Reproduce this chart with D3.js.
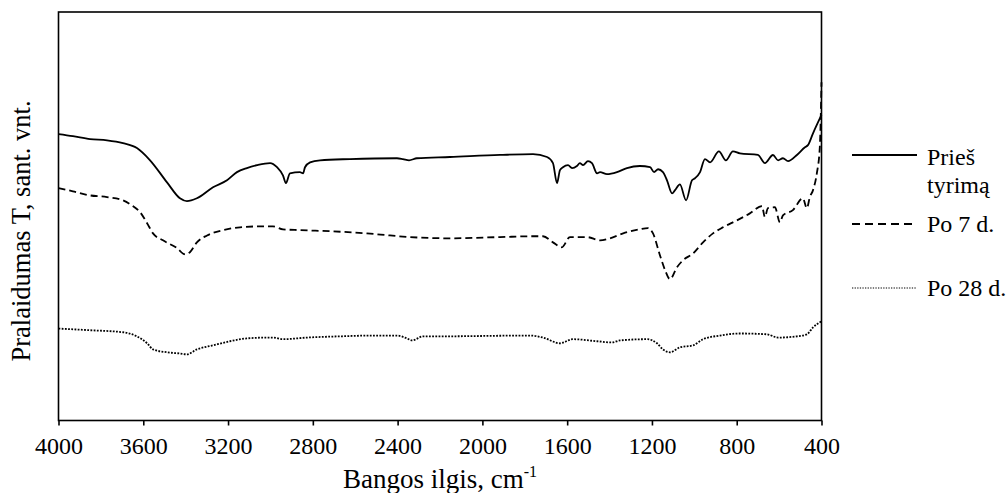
<!DOCTYPE html>
<html><head><meta charset="utf-8">
<script src="https://cdn.jsdelivr.net/npm/d3@7"></script>
<style>
html,body{margin:0;padding:0;background:#fff;}
</style></head>
<body><svg id="c" width="1007" height="493" font-family="Liberation Serif"></svg>
<script>
// ---- data (arbitrary transmittance units, x in cm^-1) ----
const xTicks = [4000,3600,3200,2800,2400,2000,1600,1200,800,400];
const seriesNames = ["Prieš tyrimą","Po 7 d.","Po 28 d."];

const wnBefore = [4000,3932,3851,3771,3696,3630,3568,3488,3427,3394,3347,3271,3205,3158,3111,3063,3002,2969,2941,2927,2908,2861,2846,2837,2813,2766,2625,2403,2375,2346,2309,2153,1917,1761,1695,1667,1648,1634,1620,1596,1577,1554,1540,1525,1502,1483,1459,1445,1412,1365,1318,1257,1209,1190,1171,1148,1129,1105,1091,1068,1039,1011,997,973,950,926,884,851,818,785,700,667,629,605,582,558,516,478,464,440,400];
const tBefore = [70.1,69.6,68.9,68.6,67.9,66.7,63.7,58.3,54.4,53.7,54.4,57.1,58.8,60.8,61.8,62.5,63.0,62.0,60.0,58.1,60.5,60.8,60.5,62.0,63.2,63.7,64.0,64.2,64.0,63.7,64.2,64.5,65.0,65.2,64.5,63.0,58.1,61.3,62.0,62.5,61.8,62.3,63.0,62.5,63.5,63.0,60.5,60.8,60.3,60.8,61.8,62.3,62.0,60.8,61.5,60.8,58.8,55.6,56.4,57.8,53.9,58.8,59.3,60.8,64.0,63.2,65.9,63.7,65.9,65.4,65.0,63.0,65.0,63.7,64.2,63.5,65.0,66.9,67.4,70.3,74.8];

const wn7 = [4000,3932,3851,3771,3696,3649,3615,3582,3554,3507,3441,3403,3380,3347,3299,3224,3144,3063,2988,2941,2861,2705,2545,2436,2342,2153,1917,1761,1714,1667,1625,1587,1507,1445,1398,1336,1257,1219,1195,1162,1138,1115,1082,1054,1006,959,912,865,799,738,681,667,653,620,596,582,535,488,469,455,440,422,408,400];
const t7 = [56.9,56.1,55.1,54.7,53.9,52.5,51.0,48.3,45.8,44.1,42.2,40.7,41.2,43.6,45.3,46.6,47.3,47.5,47.5,46.8,46.6,46.3,45.8,45.3,44.9,44.6,44.9,45.1,45.1,43.6,42.4,44.9,44.9,44.1,44.6,45.8,46.8,47.1,45.8,40.4,36.8,34.6,37.5,39.2,40.9,43.6,45.8,47.3,49.0,50.7,52.5,49.8,52.0,52.2,48.5,50.2,51.5,54.4,52.0,54.7,56.4,60.5,66.9,82.8];

const wn28 = [4000,3851,3696,3630,3582,3554,3488,3427,3394,3347,3271,3191,3111,3016,2988,2941,2828,2672,2516,2403,2356,2332,2280,2200,1776,1714,1634,1573,1459,1389,1351,1224,1176,1148,1115,1068,1006,959,879,785,658,605,516,469,440,400];
const t28 = [22.5,22.1,21.6,20.6,18.9,17.4,16.7,16.4,16.2,17.4,18.4,19.4,20.1,20.3,20.3,19.9,20.3,20.6,20.8,20.8,20.1,19.6,20.6,20.6,20.8,20.3,18.9,19.9,19.4,19.1,19.6,19.9,18.9,17.4,16.7,17.9,18.4,19.9,20.8,21.3,21.1,20.3,20.6,21.1,22.8,24.3];

// ---- layout ----
const FONT = "Liberation Serif";
const L = 58.5, R = 821.5, T = 12, B = 420.5;
const svg = d3.select("#c");
const x = d3.scaleLinear().domain([4000,400]).range([L,R]);
const y = d3.scaleLinear().domain([0,100]).range([B,T]);

const series = [
  {name:seriesNames[0], wn:wnBefore, t:tBefore, dash:null, w:1.8, lw:1.8, ldash:null},
  {name:seriesNames[1], wn:wn7, t:t7, dash:"7,4", w:1.8, lw:1.8, ldash:"8,5"},
  {name:seriesNames[2], wn:wn28, t:t28, dash:"1.8,1.4", w:1.8, lw:1.2, ldash:"1.3,1.3"}
];

const line = d3.line().x(d=>x(d[0])).y(d=>y(d[1])).curve(d3.curveMonotoneX);
const g = svg.append("g");
series.forEach(s=>{
  g.append("path")
   .datum(s.wn.map((w,i)=>[w,s.t[i]]))
   .attr("d", line)
   .attr("fill","none")
   .attr("stroke","#000")
   .attr("stroke-width", s.w)
   .attr("stroke-linejoin","round")
   .attr("stroke-dasharray", s.dash);
});

// frame
svg.append("rect").attr("x",L).attr("y",T).attr("width",R-L).attr("height",B-T)
  .attr("fill","none").attr("stroke","#000").attr("stroke-width",1.6);

// x axis
const ax = svg.append("g").attr("transform",`translate(0,${B})`)
  .call(d3.axisBottom(x).tickValues(xTicks).tickSize(5).tickPadding(11).tickFormat(d3.format("d")));
ax.attr("font-family",FONT).attr("font-size",24);
ax.select(".domain").remove();
ax.selectAll(".tick line").attr("stroke","#000").attr("stroke-width",1.6);
ax.selectAll(".tick text").attr("font-family",FONT).attr("font-size",24).attr("fill","#000");

// axis titles
const xt = svg.append("text").attr("x",(L+R)/2).attr("y",488).attr("text-anchor","middle")
  .attr("font-family",FONT).attr("font-size",27);
xt.append("tspan").text("Bangos ilgis, cm");
xt.append("tspan").attr("font-size",16).attr("dy",-11).text("-1");

svg.append("text").attr("transform","translate(30,231) rotate(-90)")
  .attr("text-anchor","middle").attr("font-family",FONT).attr("font-size",26.5).text("Pralaidumas T, sant. vnt.");

// legend
const leg = [
  {y:155, lines:["Prieš","tyrimą"], ty:[165,193]},
  {y:224, lines:["Po 7 d."], ty:[232]},
  {y:288, lines:["Po 28 d."], ty:[296]}
];
leg.forEach((l,i)=>{
  const s = series[i];
  svg.append("line").attr("x1",852).attr("x2",917).attr("y1",l.y).attr("y2",l.y)
    .attr("stroke","#000").attr("stroke-width",s.lw).attr("stroke-dasharray",s.ldash);
  l.lines.forEach((t,j)=>{
    svg.append("text").attr("x",927).attr("y",l.ty[j]).attr("font-family",FONT).attr("font-size",24).text(t);
  });
});
</script></body></html>
